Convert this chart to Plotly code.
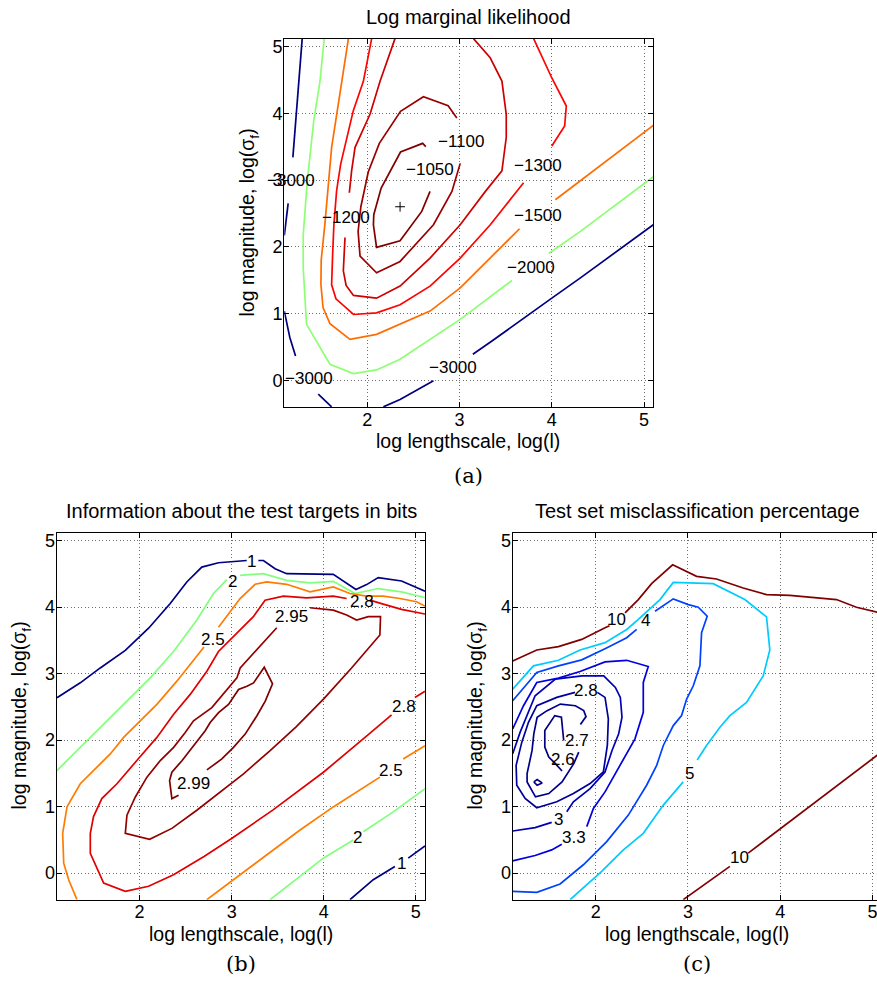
import plotly.graph_objects as go

W, H = 877, 984

# ---------------- Panel (a): log marginal likelihood ----------------
a_levels = [-3000, -2000, -1500, -1300, -1200, -1100, -1050]
a_m3000_x = [1.294, 1.258, 1.193, None, 1.142, 1.10, None, 1.10, 1.16, 1.222, None, 1.468, 1.613, None,
             2.174, 2.355, 2.717, None, 3.144, 3.351, 4.0, 4.31, 5.1]
a_m3000_y = [5.12, 4.47, 3.34, None, 2.65, 2.17, None, 1.035, 0.64, 0.363, None, -0.21, -0.40, None,
             -0.40, -0.29, -0.01, None, 0.388, 0.587, 1.23, 1.534, 2.33]
a_m2000_x = [1.533, 1.486, 1.42, 1.349, 1.305, 1.305, 1.341, 1.595, 1.848, 2.10, 2.355, 2.68, 3.007, 3.567,
             None, 3.966, 4.31, 5.1]
a_m2000_y = [5.12, 4.47, 3.9, 2.98, 2.18, 1.68, 0.837, 0.239, 0.10, 0.154, 0.313, 0.612, 0.912, 1.494,
             None, 1.9, 2.23, 3.05]
a_m1500_x = [1.795, 1.711, 1.613, 1.54, 1.50, 1.497, 1.52, 1.595, 1.812, 2.10, 2.355, 2.68, 3.007, 3.332, 3.65,
             None, 4.038, 5.1]
a_m1500_y = [5.12, 4.38, 3.49, 2.34, 1.8, 1.435, 1.09, 0.847, 0.612, 0.687, 0.837, 1.036, 1.384, 1.833, 2.27,
             None, 2.705, 3.82]
a_m1300_x = [2.047, 1.957, 1.848, 1.776, 1.711, 1.667, 1.638, 1.624, 1.613, 1.66, 1.85, 2.10, 2.355, 2.68,
             3.007, 3.333, 3.694, None, 4.0, 4.139, 4.157, 4.0, 3.803]
a_m1300_y = [5.12, 4.48, 4.04, 3.64, 3.24, 2.84, 2.34, 1.89, 1.43, 1.22, 0.985, 1.01, 1.13, 1.41,
             1.83, 2.33, 2.96, None, 3.51, 3.81, 4.11, 4.53, 5.12]
a_m1200_x = [2.30, 2.138, 2.03, 1.867, 1.83, 1.805, None, 1.758, 1.74, 1.77, 1.85, 2.10, 2.355, 2.68, 3.007,
             3.28, 3.459, 3.506, 3.506, 3.459, 3.332, 3.151]
a_m1200_y = [5.12, 4.48, 3.99, 3.49, 3.14, 2.81, None, 2.14, 1.64, 1.42, 1.27, 1.23, 1.41, 1.83, 2.33,
             2.83, 3.139, 3.637, 3.986, 4.484, 4.833, 5.12]
a_m1100_x = [2.97, 2.876, 2.608, 2.36, 2.13, 2.01, 1.93, 1.90, 1.921, 2.10, 2.355, 2.717, 2.917, 3.007]
a_m1100_y = [3.93, 4.115, 4.25, 4.03, 3.55, 3.12, 2.6, 2.23, 1.86, 1.61, 1.78, 2.33, 2.83, 3.25]
a_m1050_x = [2.634, 2.60, 2.36, 2.15, 2.07, 2.066, 2.10, 2.355, 2.59, 2.68]
a_m1050_y = [3.50, 3.55, 3.42, 2.88, 2.48, 2.33, 1.99, 2.09, 2.53, 2.83]
a_max_x = [2.355]
a_max_y = [2.60]
a_lab_text = ["\u22123000", "\u22123000", "\u22123000", "\u22122000", "\u22121500", "\u22121300",
              "\u22121200", "\u22121100", "\u22121050"]
a_lab_x = [1.172, 1.367, 2.934, 3.77, 3.846, 3.846, 1.77, 3.01, 2.68]
a_lab_y = [2.99, 0.03, 0.189, 1.69, 2.476, 3.224, 2.44, 3.575, 3.165]

# ---------------- Panel (b): information in bits ----------------
b_levels = [1, 2, 2.5, 2.8, 2.95, 2.99]
b_1_x = [1.103, 1.356, 1.573, 1.845, 2.098, 2.333, 2.513, 2.676, 2.857, 3.164, None, 3.29, 3.345, 3.472, 3.598,
         4.104, 4.231, 4.350, 4.466, 4.592, 4.845, 5.1, None, 4.285, 4.538, 4.773, None, 4.918, 5.1]
b_1_y = [2.637, 2.861, 3.085, 3.348, 3.682, 4.055, 4.378, 4.602, 4.667, 4.701, None, 4.701, 4.701, 4.577, 4.502,
         4.493, 4.378, 4.264, 4.338, 4.443, 4.393, 4.239, None, -0.4, -0.1, 0.1, None, 0.224, 0.408]
b_2_x = [1.103, 1.32, 1.537, 1.682, 1.899, 2.116, 2.369, 2.622, 2.803, 2.947, None, 3.092, 3.345, 3.598, 3.851,
         4.104, 4.339, 4.592, 4.845, 5.1, None, 3.417, 3.743, 3.996, 4.321, None, 4.43, 4.755, 5.1]
b_2_y = [1.542, 1.84, 2.139, 2.338, 2.637, 2.935, 3.333, 3.806, 4.204, 4.413, None, 4.478, 4.502, 4.403, 4.363,
         4.388, 4.204, 4.279, 4.229, 4.144, None, -0.4, -0.05, 0.224, 0.498, None, 0.622, 0.92, 1.269]
b_25_x = [1.32, 1.23, 1.176, 1.165, 1.212, 1.356, 1.573, 1.682, 1.827, 2.008, 2.188, 2.405, 2.659, 2.70, None,
          2.857, 3.092, 3.255, 3.381, 3.598, 3.851, 4.104, 4.285, 4.466, 4.646, 4.827, 5.008, 5.1, None,
          2.73, 3.02, 3.381, 3.743, 4.104, 4.466, 4.61, None, 4.863, 5.1]
b_25_y = [-0.4, -0.1, 0.149, 0.597, 0.995, 1.343, 1.642, 1.791, 2.04, 2.289, 2.537, 2.886, 3.333, 3.40, None,
          3.697, 4.129, 4.343, 4.378, 4.343, 4.229, 4.303, 4.204, 4.164, 4.164, 4.129, 4.08, 4.015, None,
          -0.4, -0.1, 0.274, 0.647, 0.995, 1.318, 1.443, None, 1.716, 1.915]
b_28_x = [5.1, 4.845, 4.646, 4.502, None, 4.249, 4.104, 3.815, 3.562, 3.363, 3.236, 3.092, 2.857, 2.731, 2.55,
          2.37, 2.188, 1.97, 1.754, 1.59, 1.50, 1.465, 1.465, 1.61, 1.845, 2.098, 2.369, 2.70, 3.0, 3.45, 4.0,
          4.5, 4.737, None, 4.99, 5.1]
b_28_y = [3.896, 3.965, 4.045, 4.104, None, 4.129, 4.164, 4.139, 4.164, 4.104, 3.856, 3.657, 3.333, 3.035, 2.687,
          2.388, 2.04, 1.692, 1.343, 1.12, 0.85, 0.597, 0.298, -0.149, -0.274, -0.199, -0.025, 0.25, 0.52, 0.95, 1.52,
          2.10, 2.38, None, 2.64, 2.736]
b_295_x = [3.49, 3.256, 3.093, 3.057, 2.948, 2.785, 2.586, 2.496, 2.37, 2.225, 2.08, 1.954, 1.863, 1.845, 2.109,
           2.351, 2.622, 2.894, 3.129, 3.418, 3.70, 4.0, 4.3, 4.61, 4.617, 4.484, 4.357, 4.249, 4.104, 3.851]
b_295_y = [3.69, 3.333, 3.085, 2.935, 2.761, 2.488, 2.289, 2.114, 1.891, 1.692, 1.443, 1.144, 0.87, 0.597, 0.507,
           0.672, 0.945, 1.244, 1.493, 1.841, 2.20, 2.62, 3.08, 3.58, 3.856, 3.856, 3.806, 3.881, 3.955, 3.99]
b_299_x = [2.424, 2.351, 2.326, 2.351, 2.46, 2.569, 2.641, 2.713, 2.767, 2.858, 2.966, 3.075, 3.166, 3.238,
           3.354, 3.444, 3.365, 3.273, 3.147, 3.02, 2.894, 2.731]
b_299_y = [1.169, 1.12, 1.393, 1.517, 1.69, 1.89, 2.015, 2.14, 2.264, 2.413, 2.537, 2.761, 2.81, 2.86,
           3.095, 2.846, 2.587, 2.363, 2.09, 1.891, 1.716, 1.552]
b_lab_text = ["1", "1", "2", "2", "2.5", "2.5", "2.8", "2.8", "2.95", "2.99"]
b_lab_x = [3.218, 4.845, 3.009, 4.364, 2.80, 4.726, 4.411, 4.874, 3.652, 2.583]
b_lab_y = [4.69, 0.149, 4.388, 0.537, 3.507, 1.542, 4.09, 2.502, 3.856, 1.343]

# ---------------- Panel (c): misclassification percentage ----------------
c_levels = [2.6, 2.7, 2.8, 3, 3.3, 4, 5, 10]
c_10_x = [1.1, 1.361, 1.596, 1.848, 2.101, 2.15, None, 2.318, 2.462, 2.606, 2.834, 3.094, 3.31, 3.599, 3.852,
          4.105, 4.357, 4.61, 4.827, 5.06, None, 2.949, 3.455, None, 3.653, 5.06]
c_10_y = [3.19, 3.355, 3.405, 3.514, 3.689, 3.72, None, 3.913, 4.113, 4.352, 4.636, 4.462, 4.422, 4.287, 4.187,
          4.177, 4.148, 4.113, 3.998, 3.92, None, -0.4, 0.1, None, 0.3, 1.78]
c_5_x = [1.1, 1.325, 1.596, 1.83, 2.101, 2.336, 2.45, 2.697, 2.841, 3.274, 3.617, 3.852, 3.888, 3.816, 3.635,
         3.455, 3.347, 3.202, 3.10, None, 2.949, 2.733, 2.516, 2.30, 2.065, 1.722]
c_5_y = [2.767, 3.116, 3.20, 3.355, 3.465, 3.664, 3.80, 4.113, 4.372, 4.352, 4.113, 3.853, 3.355, 2.966, 2.567,
         2.368, 2.193, 1.919, 1.70, None, 1.371, 1.022, 0.598, 0.349, 0.025, -0.4]
c_4_x = [1.1, 1.361, 1.596, 1.848, 2.101, 2.336, 2.444, None, 2.643, 2.841, 3.004, 3.112, 3.209, 3.148, 3.13,
         3.058, 2.986, 2.931, 2.841, 2.733, 2.661, 2.552, 2.354, 2.119, 1.866, 1.614, 1.361, 1.1]
c_4_y = [2.592, 3.016, 3.116, 3.206, 3.375, 3.539, 3.664, None, 3.938, 4.123, 4.038, 3.998, 3.863, 3.614, 3.116,
         2.817, 2.617, 2.368, 2.218, 1.919, 1.62, 1.321, 0.872, 0.474, 0.125, -0.164, -0.289, -0.274]
c_33_x = [1.1, 1.217, 1.361, 1.596, 1.830, 2.101, 2.336, 2.570, 2.516, 2.516, 2.426, 2.264, 2.101, 1.975, 1.903,
          None, 1.632, 1.523, 1.343, 1.1]
c_33_y = [2.168, 2.517, 2.866, 2.931, 3.031, 3.175, 3.200, 3.106, 2.866, 2.418, 2.019, 1.620, 1.221, 0.972, 0.698,
          None, 0.434, 0.349, 0.264, 0.184]
c_3_x = [1.1, 1.181, 1.343, 1.563, 1.852, 2.087, 2.213, 2.267, 2.285, 2.249, 2.177, 2.101, 1.939, 1.758, 1.686,
         None, 1.523, 1.343, 1.1]
c_3_y = [1.795, 2.119, 2.667, 2.916, 2.966, 2.966, 2.792, 2.642, 2.343, 2.094, 1.844, 1.520, 1.271, 1.072, 0.922,
         None, 0.763, 0.683, 0.633]
c_28_x = [2.018, 2.101, 2.137, 2.126, 2.083, 1.939, 1.758, 1.578, 1.361, 1.235, 1.144, 1.137, 1.199, 1.271, 1.361,
          1.578, 1.776]
c_28_y = [2.717, 2.642, 2.318, 1.919, 1.520, 1.346, 1.196, 1.072, 0.982, 1.122, 1.321, 1.620, 1.969, 2.268, 2.517,
          2.642, 2.717]
c_27_x = [1.834, 1.895, 1.870, 1.780, 1.617, 1.473, 1.365, 1.329, 1.310, 1.256, 1.256, 1.347, 1.491, 1.635, 1.762,
          1.816]
c_27_y = [2.233, 2.353, 2.443, 2.517, 2.542, 2.443, 2.343, 2.094, 1.844, 1.496, 1.371, 1.147, 1.196, 1.371, 1.645,
          1.820]
c_26_x = [1.653, 1.643, 1.628, 1.556, 1.491, 1.448, 1.448, 1.491, 1.563, 1.635, None,
          1.329, 1.365, 1.419, 1.365, 1.329]
c_26_y = [1.994, 2.144, 2.343, 2.368, 2.243, 2.144, 1.894, 1.745, 1.645, 1.535, None,
          1.371, 1.406, 1.356, 1.321, 1.371]
c_lab_text = ["10", "4", "2.8", "2.7", "2.6", "3", "3.3", "5", "10"]
c_lab_x = [2.227, 2.545, 1.895, 1.801, 1.643, 1.596, 1.765, 3.014, 3.556]
c_lab_y = [3.82, 3.799, 2.752, 1.994, 1.71, 0.813, 0.538, 1.496, 0.239]

# ---------------- helpers ----------------
def jet(v, lo, hi):
    t = min(max((v - lo) / (hi - lo), 0.0), 1.0)
    def c(u):
        return int(round(255 * min(max(u, 0.0), 1.0)))
    r = 1.5 - abs(4 * t - 3)
    g = 1.5 - abs(4 * t - 2)
    b = 1.5 - abs(4 * t - 1)
    return f"rgb({c(r)},{c(g)},{c(b)})"

SANS = "Liberation Sans, Arial, Helvetica, sans-serif"
SERIF = "DejaVu Serif, Liberation Serif, serif"

fig = go.Figure()

panels = [
    ("x", "y", a_levels, [(a_m3000_x, a_m3000_y), (a_m2000_x, a_m2000_y), (a_m1500_x, a_m1500_y),
                          (a_m1300_x, a_m1300_y), (a_m1200_x, a_m1200_y), (a_m1100_x, a_m1100_y),
                          (a_m1050_x, a_m1050_y)]),
    ("x2", "y2", b_levels, [(b_1_x, b_1_y), (b_2_x, b_2_y), (b_25_x, b_25_y), (b_28_x, b_28_y),
                            (b_295_x, b_295_y), (b_299_x, b_299_y)]),
    ("x3", "y3", c_levels, [(c_26_x, c_26_y), (c_27_x, c_27_y), (c_28_x, c_28_y), (c_3_x, c_3_y),
                            (c_33_x, c_33_y), (c_4_x, c_4_y), (c_5_x, c_5_y), (c_10_x, c_10_y)]),
]

for xa, ya, levels, curves in panels:
    lo, hi = min(levels), max(levels)
    for lev, (cx, cy) in zip(levels, curves):
        fig.add_trace(go.Scatter(x=cx, y=cy, mode="lines", xaxis=xa, yaxis=ya,
                                 line=dict(color=jet(lev, lo, hi), width=1.7),
                                 connectgaps=False, hoverinfo="skip", showlegend=False))

fig.add_trace(go.Scatter(x=a_max_x, y=a_max_y, mode="markers", xaxis="x", yaxis="y",
                         marker=dict(symbol="cross-thin", size=7, line=dict(color="black", width=1)),
                         hoverinfo="skip", showlegend=False))

annotations = []
for ref, texts, xs, ys in [("", a_lab_text, a_lab_x, a_lab_y),
                           ("2", b_lab_text, b_lab_x, b_lab_y),
                           ("3", c_lab_text, c_lab_x, c_lab_y)]:
    for t, lx, ly in zip(texts, xs, ys):
        annotations.append(dict(text=t, x=lx, y=ly, xref="x" + ref, yref="y" + ref, showarrow=False,
                                font=dict(family=SANS, size=17, color="black"),
                                xanchor="center", yanchor="middle"))

def px(xp):
    return xp / W

def py(yp):
    return 1 - yp / H

def txt(text, xp, yp, size, family=SANS, angle=0):
    annotations.append(dict(text=text, x=px(xp), y=py(yp), xref="paper", yref="paper", showarrow=False,
                            textangle=angle, font=dict(family=family, size=size, color="black"),
                            xanchor="center", yanchor="middle"))

ytitle = "log magnitude, log(\u03c3<sub>f</sub>)"
xtitle = "log lengthscale, log(l)"
txt("Log marginal likelihood", 468, 15, 20)
txt(xtitle, 468, 440, 19.5)
txt(ytitle, 249, 221, 19.5, angle=-90)
txt("(a)", 468, 475, 21, family=SERIF)

txt("Information about the test targets in bits", 241, 510, 20)
txt(xtitle, 241, 934, 19.5)
txt(ytitle, 21, 715, 19.5, angle=-90)
txt("(b)", 241, 964, 21, family=SERIF)

txt("Test set misclassification percentage", 697, 510, 20)
txt(xtitle, 697, 934, 19.5)
txt(ytitle, 477, 715, 19.5, angle=-90)
txt("(c)", 697, 964, 21, family=SERIF)

GRID = dict(showgrid=True, gridcolor="#6f6f6f", griddash="1px,2.5px", gridwidth=1, zeroline=False)

def xax(dom, rng, anchor):
    return dict(domain=dom, range=rng, anchor=anchor, tickvals=[2, 3, 4, 5], ticks="inside", ticklen=5,
                tickcolor="black", showline=True, linecolor="black", linewidth=1.2, mirror="ticks",
                ticklabelstandoff=-4, ticklabeloverflow="allow",
                tickfont=dict(family=SANS, size=18, color="black"), fixedrange=True, **GRID)

def yax(dom, anchor, mirror="ticks"):
    return dict(domain=dom, range=[-0.4, 5.12], anchor=anchor, tickvals=[0, 1, 2, 3, 4, 5], ticks="inside",
                ticklen=5, tickcolor="black", showline=True, linecolor="black", linewidth=1.2, mirror=mirror,
                ticklabelstandoff=-3, ticklabeloverflow="allow",
                tickfont=dict(family=SANS, size=18, color="black"), fixedrange=True, **GRID)

fig.update_layout(
    width=W, height=H, margin=dict(l=0, r=0, t=0, b=0),
    paper_bgcolor="white", plot_bgcolor="white", showlegend=False,
    xaxis=xax([px(284.3), px(653.3)], [1.1, 5.1], "y"),
    yaxis=yax([py(405.7), py(36.7)], "x"),
    xaxis2=xax([px(56.7), px(425.0)], [1.1, 5.1], "y2"),
    yaxis2=yax([py(899.5), py(531.7)], "x2"),
    xaxis3=xax([px(512.7), 1.0], [1.1, 5.05], "y3"),
    yaxis3=yax([py(899.5), py(531.7)], "x3", mirror=False),
    annotations=annotations,
)

fig.write_html("out.html", config={"displayModeBar": False},
               post_script="document.body.style.margin='0';document.body.style.padding='0';"
                           "document.body.style.overflow='hidden';")
